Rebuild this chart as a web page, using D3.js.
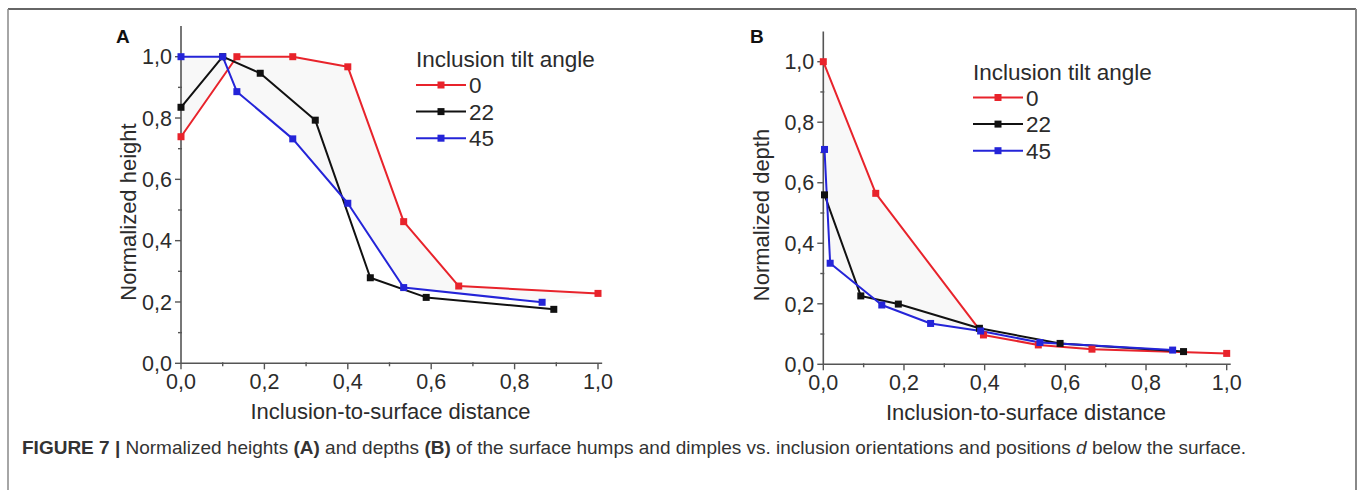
<!DOCTYPE html>
<html>
<head>
<meta charset="utf-8">
<script src="https://cdn.jsdelivr.net/npm/d3@7"></script>
<style>
  html, body { margin: 0; padding: 0; background: #fff; }
  svg { display: block; font-family: "Liberation Sans", Arial, sans-serif; }
</style>
</head>
<body>
<svg id="chart" width="1362" height="490"></svg>
<script>
// ---- Data ----
const seriesNames = ["0", "22", "45"];
const seriesColors = ["#e8232b", "#111111", "#2424d8"];
const legendTitle = "Inclusion tilt angle";
const xTickValues = [0, 0.2, 0.4, 0.6, 0.8, 1.0];
const yTickValues = [0, 0.2, 0.4, 0.6, 0.8, 1.0];

// Panel A: normalized height
const heightX0 = [0.0, 0.134, 0.268, 0.40, 0.534, 0.666, 1.0];
const heightY0 = [0.739, 1.0, 1.0, 0.967, 0.462, 0.252, 0.228];
const heightX22 = [0.0, 0.10, 0.19, 0.322, 0.454, 0.588, 0.894];
const heightY22 = [0.835, 1.0, 0.946, 0.793, 0.279, 0.215, 0.176];
const heightX45 = [0.0, 0.10, 0.134, 0.268, 0.40, 0.534, 0.866];
const heightY45 = [1.0, 1.0, 0.886, 0.732, 0.522, 0.247, 0.199];

// Panel B: normalized depth
const depthX0 = [0.0, 0.13, 0.397, 0.533, 0.666, 1.0];
const depthY0 = [1.0, 0.565, 0.097, 0.064, 0.050, 0.036];
const depthX22 = [0.003, 0.093, 0.186, 0.387, 0.587, 0.893];
const depthY22 = [0.56, 0.226, 0.199, 0.119, 0.069, 0.042];
const depthX45 = [0.003, 0.017, 0.145, 0.266, 0.39, 0.537, 0.866];
const depthY45 = [0.71, 0.334, 0.196, 0.135, 0.11, 0.072, 0.047];

const svg = d3.select("#chart");
const fmt = d => d3.format(".1f")(d).replace(".", ",");
const textColor = "#2b2b2b";
const axisColor = "#555";

// frame
svg.append("line").attr("x1", 8).attr("x2", 1356).attr("y1", 9).attr("y2", 9)
  .attr("stroke", "#333").attr("stroke-width", 1.5);
svg.append("line").attr("x1", 8).attr("x2", 8).attr("y1", 9).attr("y2", 490)
  .attr("stroke", "#888").attr("stroke-width", 1.5);
svg.append("line").attr("x1", 1356).attr("x2", 1356).attr("y1", 9).attr("y2", 490)
  .attr("stroke", "#888").attr("stroke-width", 2);

function zip(xs, ys) { return xs.map((x, i) => ({ x: x, y: ys[i] })); }

function panel(cfg) {
  const x = d3.scaleLinear().domain([0, 1.0]).range([cfg.x0, cfg.x1]);
  const y = d3.scaleLinear().domain([0, 1.0]).range([cfg.y0, cfg.y1]);
  const g = svg.append("g");

  const series = cfg.series.map(s => zip(s[0], s[1]));

  // very light shading between red and blue curves
  const poly = series[0].concat(series[2].slice().reverse());
  g.append("path")
    .attr("d", d3.line().x(d => x(d.x)).y(d => y(d.y))(poly) + "Z")
    .attr("fill", "#f8f8f8").attr("stroke", "none");

  // axes
  const xAxisG = g.append("g").attr("transform", `translate(0,${cfg.y0})`);
  xAxisG.append("line").attr("x1", x(0)).attr("x2", x(1.01)).attr("y1", 0).attr("y2", 0)
    .attr("stroke", axisColor).attr("stroke-width", 1.6);
  const xMinor = d3.range(1, 10, 2).map(v => v / 10);
  xAxisG.selectAll("line.maj").data(xTickValues).join("line").attr("class", "maj")
    .attr("x1", d => x(d)).attr("x2", d => x(d)).attr("y1", 0).attr("y2", 6)
    .attr("stroke", axisColor).attr("stroke-width", 1.4);
  xAxisG.selectAll("line.min").data(xMinor).join("line").attr("class", "min")
    .attr("x1", d => x(d)).attr("x2", d => x(d)).attr("y1", -1).attr("y2", 3)
    .attr("stroke", axisColor).attr("stroke-width", 1.4);
  xAxisG.selectAll("text").data(xTickValues).join("text")
    .attr("x", d => x(d)).attr("y", 26).attr("text-anchor", "middle")
    .attr("font-size", 21.5).attr("fill", textColor).text(fmt);

  const yAxisG = g.append("g").attr("transform", `translate(${cfg.x0},0)`);
  yAxisG.append("line").attr("x1", 0).attr("x2", 0).attr("y1", y(0)).attr("y2", y(1.1))
    .attr("stroke", axisColor).attr("stroke-width", 1.6);
  const yMinor = [0.1, 0.3, 0.5, 0.7, 0.9];
  yAxisG.selectAll("line.maj").data(yTickValues).join("line").attr("class", "maj")
    .attr("x1", -6).attr("x2", 0).attr("y1", d => y(d)).attr("y2", d => y(d))
    .attr("stroke", axisColor).attr("stroke-width", 1.4);
  yAxisG.selectAll("line.min").data(yMinor).join("line").attr("class", "min")
    .attr("x1", -3).attr("x2", 1).attr("y1", d => y(d)).attr("y2", d => y(d))
    .attr("stroke", axisColor).attr("stroke-width", 1.4);
  yAxisG.selectAll("text").data(yTickValues).join("text")
    .attr("x", -9).attr("y", d => y(d)).attr("dy", "0.36em").attr("text-anchor", "end")
    .attr("font-size", 21.5).attr("fill", textColor).text(fmt);

  // axis titles
  g.append("text").attr("x", (cfg.x0 + cfg.x1) / 2 + 1).attr("y", cfg.y0 + 56)
    .attr("text-anchor", "middle").attr("font-size", 22).attr("fill", textColor)
    .text("Inclusion-to-surface distance");
  g.append("text")
    .attr("transform", `translate(${cfg.yTitleX},${(cfg.y0 + cfg.y1) / 2 + 2}) rotate(-90)`)
    .attr("text-anchor", "middle").attr("dy", "0.36em").attr("font-size", 22).attr("fill", textColor)
    .text(cfg.yTitle);

  // panel letter
  g.append("text").attr("x", cfg.letterX).attr("y", 43).attr("font-size", 19)
    .attr("font-weight", "bold").attr("fill", "#111").text(cfg.letter);

  // lines + markers
  const line = d3.line().x(d => x(d.x)).y(d => y(d.y));
  series.forEach((pts, i) => {
    g.append("path").attr("d", line(pts)).attr("fill", "none")
      .attr("stroke", seriesColors[i]).attr("stroke-width", 2).attr("stroke-linejoin", "round");
  });
  series.forEach((pts, i) => {
    g.selectAll(null).data(pts).join("rect")
      .attr("x", d => x(d.x) - 3.5).attr("y", d => y(d.y) - 3.5)
      .attr("width", 7).attr("height", 7).attr("fill", seriesColors[i]);
  });

  // legend
  const lg = g.append("g").attr("transform", `translate(${cfg.legX},${cfg.legY})`);
  lg.append("text").attr("x", 0).attr("y", 0).attr("dy", "0.36em")
    .attr("font-size", 22.5).attr("fill", textColor).text(legendTitle);
  seriesNames.forEach((name, i) => {
    const yy = 26 + i * 26.6;
    lg.append("line").attr("x1", 0).attr("x2", 50).attr("y1", yy).attr("y2", yy)
      .attr("stroke", seriesColors[i]).attr("stroke-width", 2);
    lg.append("rect").attr("x", 21.5).attr("y", yy - 3.5).attr("width", 7).attr("height", 7)
      .attr("fill", seriesColors[i]);
    lg.append("text").attr("x", 53).attr("y", yy).attr("dy", "0.36em")
      .attr("font-size", 22.5).attr("fill", textColor).text(name);
  });
}

panel({
  x0: 181, x1: 598, y0: 363.3, y1: 56.7,
  series: [[heightX0, heightY0], [heightX22, heightY22], [heightX45, heightY45]],
  yTitle: "Normalized height", yTitleX: 128, letter: "A", letterX: 116,
  legX: 416, legY: 59
});
panel({
  x0: 823.3, x1: 1226.7, y0: 364.3, y1: 61.7,
  series: [[depthX0, depthY0], [depthX22, depthY22], [depthX45, depthY45]],
  yTitle: "Normalized depth", yTitleX: 761.5, letter: "B", letterX: 750,
  legX: 973, legY: 71.5
});

// caption
const cap = svg.append("text").attr("x", 22).attr("y", 454).attr("font-size", 19).attr("fill", "#333");
const parts = [
  ["FIGURE 7 | ", "bold", "normal"],
  ["Normalized heights ", "normal", "normal"],
  ["(A)", "bold", "normal"],
  [" and depths ", "normal", "normal"],
  ["(B)", "bold", "normal"],
  [" of the surface humps and dimples vs. inclusion orientations and positions ", "normal", "normal"],
  ["d", "normal", "italic"],
  [" below the surface.", "normal", "normal"]
];
parts.forEach(p => cap.append("tspan").attr("font-weight", p[1]).attr("font-style", p[2])
  .style("white-space", "pre").text(p[0]));
</script>
</body>
</html>
